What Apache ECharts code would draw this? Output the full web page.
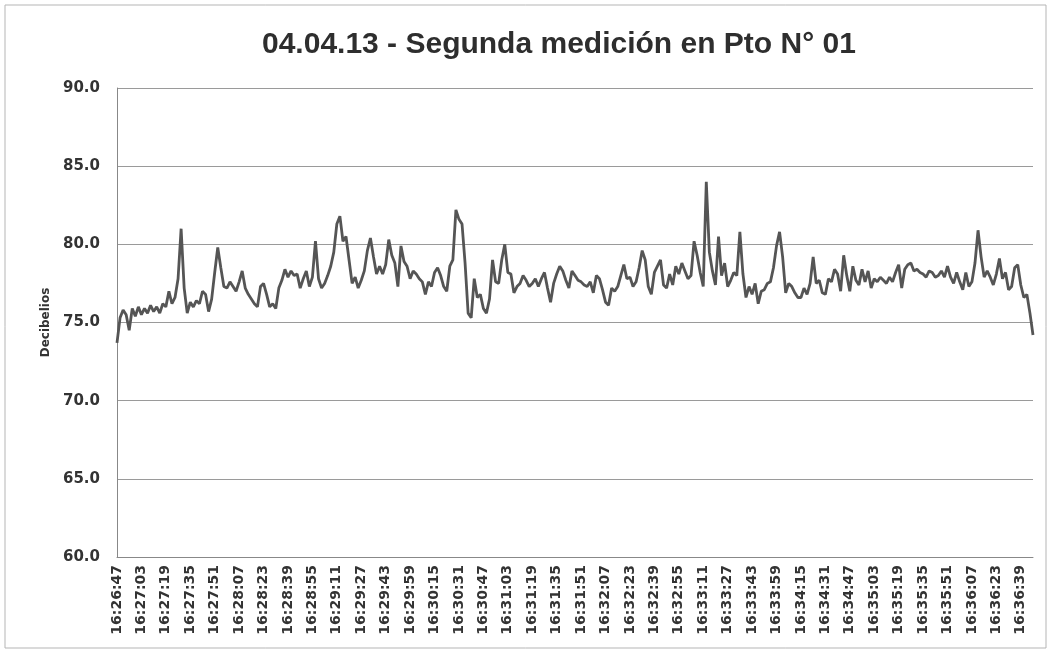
<!DOCTYPE html>
<html>
<head>
<meta charset="utf-8">
<script src="https://cdn.jsdelivr.net/npm/echarts@6/dist/echarts.min.js"></script>
<style>
  html, body { margin: 0; padding: 0; background: #fff; }
  #container { width: 1051px; height: 653px; }
</style>
</head>
<body>
<div id="container"></div>
<script>
// lecturas cada 2 s desde 16:26:47
var startTime = '16:26:47';
var stepSeconds = 2;
var labelEvery = 8; // una etiqueta cada 16 s

var decibelios = [
    73.7, 75.3, 75.8, 75.5, 74.5, 75.9, 75.4, 76.0, 75.5, 75.9,
    75.6, 76.1, 75.7, 76.0, 75.6, 76.2, 76.0, 77.0, 76.2, 76.6,
    77.8, 81.0, 77.2, 75.6, 76.3, 76.0, 76.4, 76.2, 77.0, 76.8,
    75.7, 76.5, 78.2, 79.8, 78.5, 77.3, 77.2, 77.6, 77.3, 77.0,
    77.6, 78.3, 77.2, 76.8, 76.5, 76.2, 76.0, 77.3, 77.5, 76.8,
    76.0, 76.2, 75.9, 77.2, 77.7, 78.4, 77.9, 78.3, 78.0, 78.1,
    77.2, 77.8, 78.3, 77.3, 77.9, 80.2, 77.8, 77.2, 77.5, 78.0,
    78.6, 79.5, 81.3, 81.8, 80.2, 80.5, 79.0, 77.5, 77.9, 77.2,
    77.7, 78.3, 79.6, 80.4, 79.2, 78.1, 78.6, 78.1, 78.7, 80.3,
    79.3, 78.8, 77.3, 79.9, 78.9, 78.6, 77.8, 78.3, 78.1, 77.8,
    77.6, 76.8, 77.6, 77.3, 78.2, 78.5, 78.0, 77.3, 77.0, 78.6,
    79.0, 82.2, 81.6, 81.3, 78.8, 75.6, 75.3, 77.8, 76.6, 76.8,
    75.9, 75.6, 76.5, 79.0, 77.6, 77.5, 79.0, 80.0, 78.2, 78.1,
    76.9, 77.3, 77.5, 78.0, 77.7, 77.3, 77.5, 77.8, 77.3, 77.8,
    78.2, 77.2, 76.3, 77.5, 78.1, 78.6, 78.3, 77.7, 77.2, 78.3,
    78.0, 77.7, 77.6, 77.4, 77.3, 77.6, 76.9, 78.0, 77.8, 77.1,
    76.3, 76.1, 77.2, 77.0, 77.3, 78.0, 78.7, 77.8, 77.9, 77.3,
    77.6, 78.5, 79.6, 79.0, 77.3, 76.8, 78.2, 78.6, 79.0, 77.4,
    77.2, 78.1, 77.4, 78.6, 78.1, 78.8, 78.3, 77.8, 78.0, 80.2,
    79.3, 78.2, 77.3, 84.0, 79.5, 78.3, 77.4, 80.5, 78.0, 78.8,
    77.3, 77.7, 78.2, 78.0, 80.8, 78.1, 76.6, 77.3, 76.8, 77.5,
    76.2, 77.0, 77.1, 77.5, 77.6, 78.5, 79.9, 80.8, 79.2, 76.9,
    77.5, 77.3, 76.9, 76.6, 76.6, 77.2, 76.8, 77.5, 79.2, 77.5,
    77.7, 76.9, 76.8, 77.8, 77.6, 78.4, 78.1, 77.0, 79.3, 78.0,
    77.0, 78.6, 77.7, 77.4, 78.4, 77.6, 78.3, 77.2, 77.8, 77.6,
    77.9, 77.7, 77.5, 77.9, 77.6, 78.2, 78.7, 77.2, 78.4, 78.7,
    78.8, 78.3, 78.4, 78.2, 78.1, 77.9, 78.3, 78.2, 77.9, 78.0,
    78.3, 77.9, 78.6, 77.9, 77.5, 78.2, 77.6, 77.1, 78.2, 77.3,
    77.6, 78.8, 80.9, 79.2, 77.9, 78.3, 77.9, 77.4, 78.1, 79.1,
    77.8, 78.2, 77.1, 77.3, 78.5, 78.7, 77.4, 76.6, 76.8, 75.6,
    74.2
];

var yTicks = [60, 65, 70, 75, 80, 85, 90];

function pad2(n) {
    return (n < 10 ? '0' : '') + n;
}

function buildTimes(start, step, count) {
    var p = start.split(':');
    var t = (+p[0]) * 3600 + (+p[1]) * 60 + (+p[2]);
    var out = [];
    for (var i = 0; i < count; i++) {
        var s = t + i * step;
        out.push(pad2(Math.floor(s / 3600)) + ':' + pad2(Math.floor(s / 60) % 60) + ':' + pad2(s % 60));
    }
    return out;
}

var horas = buildTimes(startTime, stepSeconds, decibelios.length);

var myChart = echarts.init(document.getElementById('container'));

myChart.setOption({
    backgroundColor: '#fff',
    animation: false,
    title: {
        text: '04.04.13 - Segunda medición en Pto N° 01',
        left: 257,
        top: 25,
        textStyle: {
            fontFamily: 'Liberation Sans, Arial',
            fontSize: 30,
            fontWeight: 'bold',
            color: '#2e2e2e'
        }
    },
    graphic: [{
        type: 'rect',
        shape: { x: 5, y: 5, width: 1041, height: 643 },
        style: { fill: 'none', stroke: '#b5b5b5', lineWidth: 1 },
        silent: true
    }],
    grid: {
        left: 117,
        right: 18,
        top: 88,
        bottom: 96,
        containLabel: false
    },
    xAxis: {
        type: 'category',
        data: horas,
        boundaryGap: false,
        axisLine: { lineStyle: { color: '#888', width: 1 } },
        axisTick: { show: false },
        axisLabel: {
            interval: labelEvery - 1,
            rotate: 90,
            margin: 8,
            color: '#333',
            fontFamily: 'DejaVu Sans, Verdana',
            fontWeight: 'bold',
            fontSize: 14
        },
        splitLine: { show: false }
    },
    yAxis: {
        type: 'value',
        min: yTicks[0],
        max: yTicks[yTicks.length - 1],
        interval: 5,
        name: 'Decibelios',
        nameLocation: 'middle',
        nameGap: 64,
        nameTextStyle: {
            color: '#333',
            fontFamily: 'DejaVu Sans, Verdana',
            fontWeight: 'bold',
            fontSize: 12
        },
        axisLine: { show: true, lineStyle: { color: '#888', width: 1 } },
        axisTick: { show: false },
        axisLabel: {
            formatter: function (v) { return v.toFixed(1); },
            color: '#333',
            fontFamily: 'DejaVu Sans, Verdana',
            fontWeight: 'bold',
            fontSize: 15,
            margin: 17
        },
        splitLine: { lineStyle: { color: '#9a9a9a', width: 1 } }
    },
    series: [{
        name: 'Decibelios',
        type: 'line',
        data: decibelios,
        showSymbol: false,
        lineStyle: { color: '#555', width: 2.8 },
        itemStyle: { color: '#555' }
    }]
});
</script>
</body>
</html>
